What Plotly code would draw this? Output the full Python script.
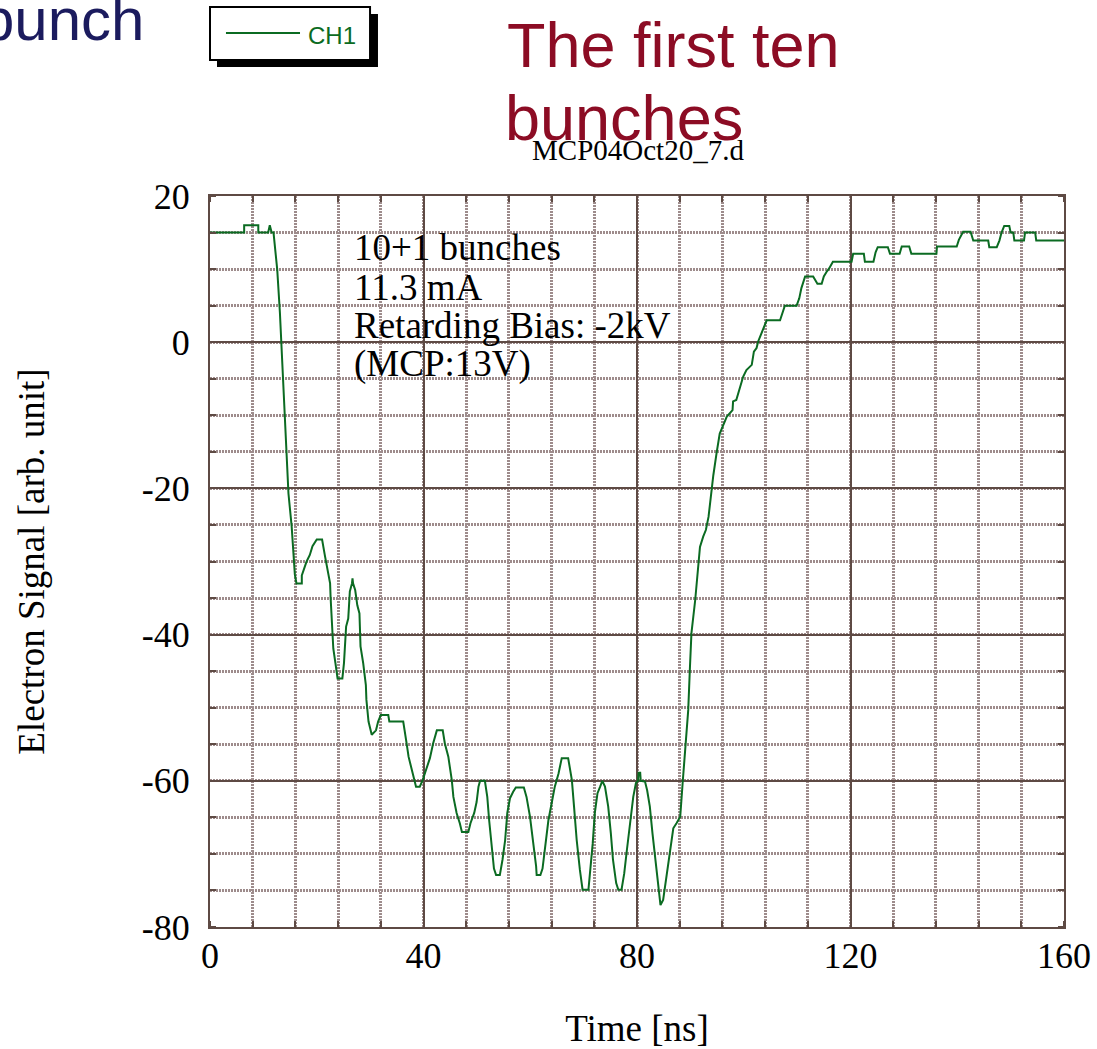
import plotly.graph_objects as go

# Scope trace CH1: time [ns] and electron signal [arb. unit]
time_ns = [
    0, 6.4, 6.4, 9.05, 9.05, 10.9, 11.2, 11.55, 11.9,
    12.6, 13.1, 13.7, 14.2, 14.7, 15.3, 15.6, 15.9, 16.2, 17.2, 17.2,
    18.1, 18.7, 19.2, 20.0, 21.0, 21.5, 22.0, 22.5, 22.6, 22.8,
    23.1, 23.5, 23.9, 24.8, 25.1, 25.5, 25.9, 26.2, 26.6, 26.7,
    26.8, 27.2, 27.6, 28.0, 28.2, 28.7, 29.2, 29.3, 29.7, 30.3,
    31.1, 31.5, 32.0, 33.4, 33.6, 36.2, 36.5, 36.8, 37.2, 38.0,
    38.6, 39.3, 39.85, 40.3, 40.7, 41.2, 41.8, 42.5, 43.6, 44.0,
    44.65, 45.3, 45.6, 46.2, 46.8, 47.2, 48.4, 48.8, 49.5, 49.95,
    50.3, 50.6, 51.5, 51.95, 52.3, 52.8, 53.2, 53.6, 54.3, 54.8,
    55.3, 55.7, 56.2, 56.8, 57.3, 58.8, 59.3, 59.95, 60.6, 61.1,
    61.2, 61.9, 62.3, 62.8, 63.4, 64.0, 64.6, 65.3, 65.9, 67.1,
    67.8, 68.2, 68.7, 69.3, 69.8, 70.9, 71.2, 71.7, 72.1, 72.6,
    73.1, 73.5, 74.0, 74.6, 75.1, 75.5, 76.1, 76.5, 77.1, 77.6,
    78.1, 78.7, 79.3, 79.8, 80.2, 80.3, 80.6, 80.7, 81.5, 81.9,
    82.4, 82.9, 83.4, 83.8, 84.4, 84.9, 85.6, 86.2, 86.8, 87.4,
    88.1, 88.55, 89.0, 89.6, 89.9, 90.2, 90.9, 91.2, 91.5, 91.8,
    92.4, 92.9, 93.4, 93.7, 94.0, 94.3, 94.9, 95.5, 96.3, 96.8,
    97.9, 98.0, 98.6, 99.3, 99.9, 100.5, 101.5, 101.9, 102.4, 102.7,
    103.3, 103.7, 104.3, 106.8, 107.3, 107.7, 109.9, 110.4, 110.8, 111.3,
    111.5, 113.0, 113.8, 114.6, 115.0, 115.5, 116.0, 116.7, 120.2, 120.5,
    122.5, 122.7, 124.3, 124.7, 125.1, 127.0, 127.4, 129.2, 129.6, 131.0,
    131.4, 136.1, 136.2, 139.9, 140.3, 141.1, 142.5, 143.0, 145.8, 146.0,
    147.4, 147.9, 148.3, 148.8, 149.75, 150.0, 150.5, 150.7, 152.5, 152.7,
    154.6, 154.8, 160.0,
]
signal = [
    15, 15, 16, 16, 15, 15, 16, 15, 15,
    9.9, 4.0, -5.2, -12.0, -20.7, -25.2, -29.1, -31.8, -33.0, -33.0, -31.9,
    -30.0, -29.1, -27.9, -27.0, -27.0, -29.1, -31.2, -33.0, -35.0, -37.8,
    -41.9, -43.9, -46.0, -46.0, -43.9, -38.9, -37.8, -34.1, -33.0, -32.3,
    -33.0, -33.9, -36.0, -37.1, -41.6, -43.9, -46.9, -48.9, -51.9, -53.7,
    -53.1, -51.9, -51.0, -51.0, -51.9, -51.9, -53.1, -54.7, -56.7, -59.0,
    -60.8, -60.8, -59.9, -58.9, -58.1, -56.9, -54.9, -53.1, -53.1, -54.9,
    -56.7, -59.9, -62.2, -64.4, -65.8, -67.0, -67.0, -65.8, -64.4, -62.9,
    -60.8, -60.0, -60.0, -62.2, -65.4, -68.6, -72.0, -72.9, -72.9, -70.8,
    -68.1, -64.4, -62.4, -61.5, -60.9, -60.9, -62.2, -64.9, -68.6, -71.7,
    -72.9, -72.9, -72.0, -69.0, -65.4, -63.1, -60.8, -59.0, -56.9, -56.9,
    -59.9, -63.5, -68.1, -72.2, -74.9, -74.9, -72.7, -68.6, -64.4, -61.7,
    -60.8, -60.0, -60.8, -63.5, -67.2, -70.8, -74.0, -74.9, -74.9, -72.7,
    -69.5, -65.4, -62.2, -60.3, -60.0, -58.9, -58.9, -60.0, -60.1, -61.3,
    -63.5, -67.2, -70.4, -73.6, -77.0, -76.3, -72.7, -69.0, -66.5, -65.8,
    -64.9, -60.3, -55.8, -50.3, -44.8, -39.8, -35.3, -32.5, -29.8, -28.0,
    -26.6, -25.7, -23.9, -22.0, -19.8, -18.2, -15.2, -12.5, -11.1, -10.2,
    -9.3, -8.1, -7.9, -6.1, -4.7, -3.8, -3.1, -1.3, -0.8, 0.1,
    1.2, 2.1, 3.0, 3.0, 4.0, 5.0, 5.0, 6.0, 7.4, 8.5,
    9.0, 9.0, 8.0, 8.0, 9.0, 9.6, 10.1, 11.0, 11.0, 12.1,
    12.1, 11.0, 11.0, 12.3, 13.0, 13.0, 12.1, 12.1, 13.1, 13.1,
    12.1, 12.1, 13.1, 13.1, 14.0, 15.1, 15.1, 13.9, 13.9, 13.0,
    13.0, 13.9, 15.0, 15.9, 15.9, 15.0, 15.0, 13.9, 13.9, 15.0,
    15.0, 13.9, 13.9,
]

x_tickvals = [0, 40, 80, 120, 160]
x_ticktext = ["0", "40", "80", "120", "160"]
y_tickvals = [-80, -60, -40, -20, 0, 20]
y_ticktext = ["-80", "-60", "-40", "-20", "0", "20"]

info_lines = ["10+1 bunches", "11.3 mA", "Retarding Bias: -2kV", "(MCP:13V)"]
info_y = [12.97, 7.50, 2.30, -3.04]

title_lines = ["The first ten", "bunches"]
file_label = "MCP04Oct20_7.d"
legend_label = "CH1"
corner_heading = "bunch"

TRACE_GREEN = "#0b6b22"
FRAME = "#5e4a44"
MINOR_GRID = "#9e8c8c"
SERIF = "Liberation Serif, Times New Roman, serif"
SANS = "Liberation Sans, Arial, sans-serif"

fig = go.Figure()
fig.add_trace(go.Scatter(
    x=time_ns, y=signal, mode="lines",
    line=dict(color=TRACE_GREEN, width=2),
    name=legend_label, showlegend=False,
))

axis_common = dict(
    showline=True, linecolor=FRAME, linewidth=2, mirror="allticks",
    showgrid=True, gridcolor=FRAME, gridwidth=2,
    ticks="", zeroline=False,
    tickfont=dict(family=SERIF, size=36, color="black"),
    title_font=dict(family=SERIF, size=37, color="black"),
)

fig.update_xaxes(
    **axis_common,
    range=[0, 160], tickmode="array", tickvals=x_tickvals, ticktext=x_ticktext,
    minor=dict(dtick=8, showgrid=True, gridcolor=MINOR_GRID, gridwidth=3,
               griddash="2px,1px", ticks="inside", ticklen=6,
               tickcolor=FRAME, tickwidth=2),
    ticklabelstandoff=-4,
    title_text="Time [ns]", title_standoff=50,
)
fig.update_yaxes(
    **axis_common,
    range=[-80, 20], tickmode="array", tickvals=y_tickvals, ticktext=y_ticktext,
    minor=dict(dtick=5, showgrid=True, gridcolor=MINOR_GRID, gridwidth=3,
               griddash="2px,1px", ticks="inside", ticklen=6,
               tickcolor=FRAME, tickwidth=2),
    ticklabelstandoff=11,
    title_text="Electron Signal [arb. unit]", title_standoff=86,
)

# Info text inside the plot
for line, yv in zip(info_lines, info_y):
    fig.add_annotation(
        x=26.6, y=yv, xref="x", yref="y", text=line, showarrow=False,
        xanchor="left", yanchor="middle",
        font=dict(family=SERIF, size=37, color="black"),
    )

# Slide title
fig.add_annotation(x=0.3454, y=1.2066, xref="paper", yref="paper",
                   text=title_lines[0], showarrow=False, xanchor="left",
                   yanchor="middle", font=dict(family=SANS, size=63, color="#8c0c24"))
fig.add_annotation(x=0.3431, y=1.1067, xref="paper", yref="paper",
                   text=title_lines[1], showarrow=False, xanchor="left",
                   yanchor="middle", font=dict(family=SANS, size=63, color="#8c0c24"))

# File name above the frame
fig.add_annotation(x=0.501, y=1.0629, xref="paper", yref="paper",
                   text=file_label, showarrow=False, xanchor="center",
                   yanchor="middle", font=dict(family=SERIF, size=29, color="black"))

# Heading running off the top-left corner of the page
fig.add_annotation(x=-0.0744, y=1.2421, xref="paper", yref="paper",
                   text=corner_heading, showarrow=False, xanchor="right",
                   yanchor="middle", font=dict(family=SANS, size=60, color="#1b1b5e"))

# Legend box with drop shadow
fig.add_shape(type="rect", xref="paper", yref="paper",
              x0=0.0082, x1=0.1967, y0=1.1765, y1=1.249,
              fillcolor="black", line=dict(width=0))
fig.add_shape(type="rect", xref="paper", yref="paper",
              x0=0.0, x1=0.1874, y0=1.1861, y1=1.2585,
              fillcolor="white", line=dict(color="black", width=2))
fig.add_shape(type="line", xref="paper", yref="paper",
              x0=0.0187, x1=0.1054, y0=1.223, y1=1.223,
              line=dict(color=TRACE_GREEN, width=2))
fig.add_annotation(x=0.1125, y=1.2189, xref="paper", yref="paper",
                   text=legend_label, showarrow=False, xanchor="left",
                   yanchor="middle", font=dict(family=SANS, size=24, color=TRACE_GREEN))

fig.update_layout(
    width=1097, height=1049,
    margin=dict(l=210, r=33, t=196, b=122, autoexpand=False),
    paper_bgcolor="white", plot_bgcolor="white",
    showlegend=False,
)

fig.write_html("out.html")
